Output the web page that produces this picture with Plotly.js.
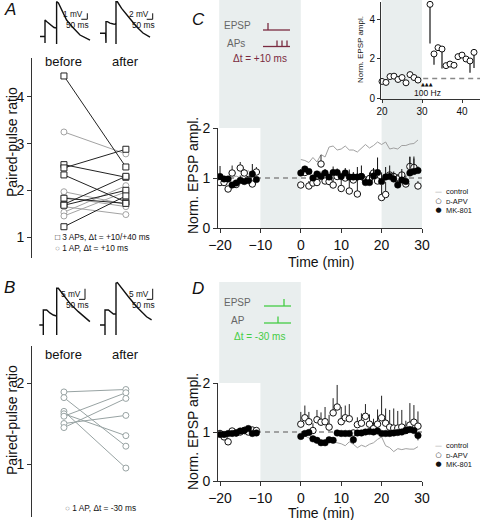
<!DOCTYPE html>
<html><head><meta charset="utf-8">
<script src="https://cdn.plot.ly/plotly-3.0.1.min.js"></script>
<style>html,body{margin:0;padding:0;background:#fff}</style>
</head><body><div id="chart" style="width:480px;height:520px"></div>
<script>
// ---------- DATA ----------
const pairPos = [0, 1];                 // before, after
const pairLabels = ['before', 'after'];

// Panel A
const aSqBefore  = [4.45, 2.55, 2.48, 2.33, 1.83, 1.70, 1.68, 1.22];
const aSqAfter   = [2.50, 2.28, 2.88, 1.75, 1.72, 2.30, 2.00, 1.88];
const aCirBefore = [3.25, 1.97, 1.85, 1.65, 1.53, 1.45];
const aCirAfter  = [2.78, 1.70, 1.65, 1.48, 2.10, 1.97];
const aTicks = [1, 2, 3, 4];

// Panel B
const bBefore = [1.89, 1.82, 1.65, 1.62, 1.59, 1.50, 1.45];
const bAfter  = [1.92, 1.22, 0.95, 1.35, 1.88, 1.60, 1.81];
const bTicks = [1, 2];

// Example EPSP traces (ms, mV)
const wAbT = [0,25,25,25,33,50,70,83,83,83,92,108,133,167,200,250];
const wAbV = [0,0,-1.1,2.75,2.5,2.0,1.5,1.4,-1.25,5.8,5.6,4.4,2.75,1.4,0.25,-0.6];
const wAaT = [0,28,30,30,37,50,67,80,80,80,87,108,142,183,215,250];
const wAaV = [0,0.1,-3.2,3.9,3.9,3.4,3.1,3.0,-3.6,10.5,10.5,8.3,5.5,2.2,0.1,-1.3];
const wBbT = [0,20,20,20,37,53,70,87,87,87,95,120,153,195,253];
const wBbV = [0,0,-4.7,7.1,7.1,5.7,4.7,4.2,-4.7,17.3,17.3,14.2,10.2,6.3,1.6];
const wBaT = [0,25,25,25,42,67,80,80,80,87,108,142,183,233,258];
const wBaV = [0,0,-4.7,7.1,7.1,5.2,5.2,-4.7,19.7,20,17.3,13.3,8.6,3.9,2.4];

// Time courses (min)
const timeTicks = [-20, -10, 0, 10, 20, 30];
const tBase = [-20,-19,-18,-17,-16,-15,-14,-13,-12,-11];
const tPost = [0,1,2,3,4,5,6,7,8,9,10,11,12,13,14,15,16,17,18,19,20,21,22,23,24,25,26,27,28,29];

// Panel C
const cCtrlBase = [1.00,1.02,0.97,1.00,1.04,1.00,1.07,1.15,1.05,1.00];
const cApvBase  = [0.91,0.91,0.78,1.10,0.87,1.20,1.10,0.97,0.88,1.12];
const cApvBaseErr = [0,0,0,0.15,0,0.12,0.08,0,0,0.1];
const cMkBase   = [1.03,0.98,0.98,0.86,0.90,0.95,0.93,0.95,1.08,0.97];
const cMkBaseErr = [0.21,0,0,0,0,0.1,0,0,0.2,0.05];
const cCtrlPost = [1.37,1.35,1.31,1.41,1.32,1.47,1.42,1.62,1.64,1.56,1.58,1.64,1.56,1.56,1.52,1.60,1.67,1.60,1.65,1.72,1.67,1.72,1.58,1.60,1.58,1.65,1.65,1.68,1.69,1.76];
const cApvPost  = [0.86,1.11,0.84,0.90,0.91,1.28,0.94,0.93,0.86,1.03,0.79,1.00,0.74,0.96,0.68,1.03,0.96,0.99,1.10,0.94,0.61,0.67,1.06,1.03,0.98,1.06,0.88,1.23,1.21,0.84];
const cApvPostErr = [0,0,0.1,0.05,0.1,0.18,0.05,0.08,0.15,0.05,0.2,0.05,0.28,0.05,0.3,0.05,0.05,0.1,0.1,0.1,0.25,0.25,0.05,0.05,0.1,0.05,0.1,0.2,0.18,0.1];
const cMkPost   = [1.10,1.18,1.13,1.00,1.08,1.03,1.10,1.02,1.11,1.11,1.03,1.10,1.02,1.02,1.02,1.03,0.91,0.91,1.04,1.11,0.93,1.02,1.03,0.98,0.86,0.96,0.93,1.10,1.13,1.15];
const cMkPostErr = [0.08,0.05,0,0.05,0,0.1,0.08,0,0.12,0.08,0,0.1,0.15,0.1,0.2,0.22,0.1,0.2,0.15,0.3,0.18,0.2,0.22,0.15,0.1,0.22,0.12,0.32,0.3,0.08];

// Panel C inset (single cell)
const insT = [20,21,22,23,24,25,26,27,28,29];
const insBase = [0.85,0.80,1.10,1.12,0.95,1.05,0.78,1.20,1.05,0.92];
const insPostT = [32,33,34,35,36,37,38,39,40,41,42,43];
const insPost = [4.80,2.26,2.58,2.51,1.66,1.74,1.68,2.12,2.20,2.00,1.90,2.34];
const insPostErr = [2.0,0.55,0,1.0,0,0,0,0,0,0,0.6,0.8];

// Panel D
const dCtrlBase = [0.98,0.97,1.00,1.02,0.99,1.01,1.03,1.05,1.00,1.00];
const dApvBase  = [0.97,0.90,0.80,1.02,0.98,1.00,1.03,1.00,1.04,1.03];
const dApvBaseErr = [0.05,0,0,0.03,0.05,0.05,0.08,0.05,0.05,0.04];
const dMkBase   = [0.95,0.95,0.97,0.97,0.98,1.02,1.03,1.07,0.97,0.98];
const dMkBaseErr = [0.05,0,0.03,0,0.05,0.04,0.05,0.05,0.04,0.03];
const dCtrlPost = [0.90,0.92,0.88,0.82,0.78,0.80,0.82,0.85,0.80,0.78,0.76,0.72,0.80,0.75,0.68,0.73,0.70,0.75,0.78,0.85,0.90,0.72,0.68,0.60,0.66,0.64,0.66,0.65,0.65,0.70];
const dApvPost  = [1.16,1.29,1.21,1.03,1.25,1.20,1.21,1.10,1.39,1.51,1.21,1.29,1.27,0.98,1.15,1.18,1.32,1.16,1.07,1.16,1.29,1.18,1.10,1.08,1.08,1.10,1.03,1.14,1.20,1.12];
const dApvPostErr = [0.25,0.25,0.2,0.15,0.2,0.2,0.3,0.25,0.3,0.45,0.3,0.25,0.3,0,0.15,0.2,0.25,0.2,0.2,0.3,0.45,0.3,0.35,0.4,0.35,0.35,0.2,0.45,0.35,0.3];
const dMkPost   = [0.91,0.97,0.99,0.86,0.83,0.78,0.78,0.84,0.83,0.98,0.97,0.97,0.97,0.84,0.98,0.98,1.00,1.01,1.00,1.02,0.97,0.97,0.97,0.98,0.99,1.00,1.03,1.05,1.03,0.93];
const dMkPostErr = [0.05,0.05,0.05,0.05,0.05,0.05,0.04,0.05,0.05,0.05,0.05,0.05,0.05,0.08,0.05,0.05,0.05,0.05,0.05,0.05,0.05,0.05,0.05,0.05,0.05,0.05,0.05,0.05,0.05,0.1];

// ---------- HELPERS ----------
const FONT = 'Liberation Sans, Arial, Helvetica, sans-serif';
const W = 480, H = 520;
const px = v => v / W;
const py = v => 1 - v / H;
const SHADE = '#e9eeee';
const DARKRED = '#7a2a40';
const GREEN = '#44cc44';

function pairs(before, after) {
  const x = [], y = [];
  before.forEach((b, i) => { x.push(pairPos[0], pairPos[1], null); y.push(b, after[i], null); });
  return {x, y};
}
const zeros = n => new Array(n).fill(0);

const traces = [];
// Panel A
const aC = pairs(aCirBefore, aCirAfter);
traces.push({x: aC.x, y: aC.y, xaxis: 'x', yaxis: 'y', mode: 'lines+markers', cliponaxis: false,
  line: {color: '#a3a3a3', width: 1}, marker: {symbol: 'circle', size: 6, color: '#fff', line: {color: '#a3a3a3', width: 1}}});
const aS = pairs(aSqBefore, aSqAfter);
traces.push({x: aS.x, y: aS.y, xaxis: 'x', yaxis: 'y', mode: 'lines+markers', cliponaxis: false,
  line: {color: '#222', width: 1}, marker: {symbol: 'square', size: 6, color: '#fff', line: {color: '#222', width: 1}}});
// Panel B
const bP = pairs(bBefore, bAfter);
traces.push({x: bP.x, y: bP.y, xaxis: 'x2', yaxis: 'y2', mode: 'lines+markers', cliponaxis: false,
  line: {color: '#98a3a3', width: 1}, marker: {symbol: 'circle', size: 6, color: '#fff', line: {color: '#98a3a3', width: 1}}});

// waveforms
[[wAbT, wAbV, 'x6', 'y6'], [wAaT, wAaV, 'x7', 'y7'], [wBbT, wBbV, 'x8', 'y8'], [wBaT, wBaV, 'x9', 'y9']].forEach(w => {
  traces.push({x: w[0], y: w[1], xaxis: w[2], yaxis: w[3], mode: 'lines', cliponaxis: false,
    line: {color: '#111', width: 1.4}});
});

function timeCourse(ax, ay, ctrlB, ctrlP, apvB, apvBE, apvP, apvPE, mkB, mkBE, mkP, mkPE, mkDown) {
  traces.push({x: tBase, y: ctrlB, xaxis: ax, yaxis: ay, mode: 'lines', line: {color: '#a0a0a0', width: 1}});
  traces.push({x: tPost, y: ctrlP, xaxis: ax, yaxis: ay, mode: 'lines', line: {color: '#a0a0a0', width: 1}});
  [[tBase, apvB, apvBE], [tPost, apvP, apvPE]].forEach(s => {
    traces.push({x: s[0], y: s[1], xaxis: ax, yaxis: ay, mode: 'markers',
      error_y: {type: 'data', symmetric: false, array: s[2], arrayminus: zeros(s[2].length), width: 0, thickness: 1, color: '#222'},
      marker: {symbol: 'circle', size: 6.5, color: '#fff', line: {color: '#111', width: 1}}});
  });
  [[tBase, mkB, mkBE], [tPost, mkP, mkPE]].forEach(s => {
    const e = mkDown ? {array: zeros(s[2].length), arrayminus: s[2]} : {array: s[2], arrayminus: zeros(s[2].length)};
    traces.push({x: s[0], y: s[1], xaxis: ax, yaxis: ay, mode: 'markers',
      error_y: Object.assign({type: 'data', symmetric: false, width: 0, thickness: 1, color: '#111'}, e),
      marker: {symbol: 'circle', size: 6.5, color: '#000', line: {color: '#000', width: 0.5}}});
  });
}
timeCourse('x3', 'y3', cCtrlBase, cCtrlPost, cApvBase, cApvBaseErr, cApvPost, cApvPostErr, cMkBase, cMkBaseErr, cMkPost, cMkPostErr, false);
timeCourse('x5', 'y5', dCtrlBase, dCtrlPost, dApvBase, dApvBaseErr, dApvPost, dApvPostErr, dMkBase, dMkBaseErr, dMkPost, dMkPostErr, true);

// C inset
traces.push({x: insT, y: insBase, xaxis: 'x4', yaxis: 'y4', mode: 'markers', cliponaxis: false,
  marker: {symbol: 'circle', size: 6, color: '#fff', line: {color: '#111', width: 1}}});
traces.push({x: insPostT, y: insPost, xaxis: 'x4', yaxis: 'y4', mode: 'markers', cliponaxis: false,
  error_y: {type: 'data', symmetric: false, array: zeros(insPostErr.length), arrayminus: insPostErr, width: 0, thickness: 1.5, color: '#444'},
  marker: {symbol: 'circle', size: 6, color: '#fff', line: {color: '#111', width: 1}}});

// ---------- AXES ----------
const baseAx = {showgrid: false, zeroline: false, showline: true, linecolor: '#333', linewidth: 1,
  ticks: 'outside', ticklen: 4, tickwidth: 1, tickcolor: '#333', tickfont: {family: FONT, size: 14, color: '#111'}};
const hidden = {visible: false, showgrid: false, zeroline: false, fixedrange: true};
const layout = {
  width: W, height: H, margin: {l: 0, r: 0, t: 0, b: 0}, showlegend: false,
  paper_bgcolor: '#fff', plot_bgcolor: 'rgba(0,0,0,0)', font: {family: FONT, color: '#111'},
  xaxis: Object.assign({}, hidden, {domain: [px(32), px(150)], range: [-0.516, 1.39], anchor: 'y'}),
  yaxis: Object.assign({}, baseAx, {domain: [py(258), py(58)], range: [0.55, 4.835], tickvals: aTicks, anchor: 'x'}),
  xaxis2: Object.assign({}, hidden, {domain: [px(32), px(150)], range: [-0.516, 1.39], anchor: 'y2'}),
  yaxis2: Object.assign({}, baseAx, {domain: [py(517), py(346)], range: [0.346, 2.457], tickvals: bTicks, anchor: 'x2'}),
  xaxis3: Object.assign({}, baseAx, {domain: [px(218), px(422)], range: [-20.5, 30], tickvals: timeTicks, anchor: 'y3'}),
  yaxis3: Object.assign({}, baseAx, {domain: [py(228), py(128)], range: [0, 2], tickvals: [0, 1, 2], anchor: 'x3'}),
  xaxis4: Object.assign({}, baseAx, {domain: [px(381), 1], range: [19.75, 44.5], tickvals: [20, 30, 40], anchor: 'y4', ticklen: 3, tickfont: {family: FONT, size: 10, color: '#111'}}),
  yaxis4: Object.assign({}, baseAx, {domain: [py(99), py(2)], range: [-0.05, 4.92], tickvals: [0, 2, 4], anchor: 'x4', ticklen: 3, tickfont: {family: FONT, size: 10, color: '#111'}}),
  xaxis5: Object.assign({}, baseAx, {domain: [px(218), px(422)], range: [-20.5, 30], tickvals: timeTicks, anchor: 'y5'}),
  yaxis5: Object.assign({}, baseAx, {domain: [py(481), py(383)], range: [0, 2], tickvals: [0, 1, 2], anchor: 'x5'}),
  xaxis6: Object.assign({}, hidden, {domain: [px(35), px(100)], range: [-25, 300], anchor: 'y6'}),
  yaxis6: Object.assign({}, hidden, {domain: [py(50), 1], range: [-2.25, 6.083], anchor: 'x6'}),
  xaxis7: Object.assign({}, hidden, {domain: [px(97), px(160)], range: [-15, 300], anchor: 'y7'}),
  yaxis7: Object.assign({}, hidden, {domain: [py(50), 1], range: [-5.567, 11.1], anchor: 'x7'}),
  xaxis8: Object.assign({}, hidden, {domain: [px(35), px(100)], range: [-21.5, 303.5], anchor: 'y8'}),
  yaxis8: Object.assign({}, hidden, {domain: [py(340), py(275)], range: [-7.075, 23.585], anchor: 'x8'}),
  xaxis9: Object.assign({}, hidden, {domain: [px(97), px(160)], range: [-15, 300], anchor: 'y9'}),
  yaxis9: Object.assign({}, hidden, {domain: [py(340), py(275)], range: [-7.075, 23.585], anchor: 'x9'}),
};

// ---------- SHAPES ----------
const shapes = [];
const rect = (xref, x0, x1, y0, y1) => shapes.push({type: 'rect', layer: 'below', xref: xref, yref: 'paper',
  x0: x0, x1: x1, y0: y0, y1: y1, fillcolor: SHADE, line: {width: 0}});
rect('x3', -20.2, 0, py(128), 1);
rect('x3', -10, 0, py(228), py(128));
rect('x3', 20, 30, py(228), 1);
rect('x5', -20.2, 0, py(383), py(282));
rect('x5', -10, 0, py(481), py(383));
const dash = (xref, yref, x0, x1) => shapes.push({type: 'line', layer: 'below', xref: xref, yref: yref,
  x0: x0, x1: x1, y0: 1, y1: 1, line: {color: '#888', width: 1.5, dash: '5px,4px'}});
dash('x3', 'y3', -20, 30);
dash('x5', 'y5', -20, 30);
dash('x4', 'y4', 30.3, 44.5);
// scale bars
const bar = (xr, yr, t0, t1, v0, v1) => {
  shapes.push({type: 'line', xref: xr, yref: yr, x0: t1, x1: t1, y0: v0, y1: v1, line: {color: '#111', width: 1}});
  shapes.push({type: 'line', xref: xr, yref: yr, x0: t0, x1: t1, y0: v0, y1: v0, line: {color: '#111', width: 1}});
};
bar('x6', 'y6', 206.5, 236.5, 2.87, 3.87);
bar('x7', 'y7', 233.5, 263.5, 4.67, 6.67);
bar('x8', 'y8', 198.5, 228.5, 12.1, 17.1);
bar('x9', 'y9', 233.5, 263.5, 12.1, 17.1);
// stimulation schematics
const pline = (x0, y0, x1, y1, c) => shapes.push({type: 'line', xref: 'paper', yref: 'paper',
  x0: px(x0), x1: px(x1), y0: py(y0), y1: py(y1), line: {color: c, width: 1.3}});
pline(263, 30, 290, 30, DARKRED); pline(268, 23, 268, 30, DARKRED);
pline(263, 46.5, 290, 46.5, DARKRED);
[277, 282, 287].forEach(xx => pline(xx, 40.5, xx, 46.5, DARKRED));
pline(264, 306, 291, 306, GREEN); pline(284, 299, 284, 306, GREEN);
pline(264, 323, 291, 323, GREEN); pline(278, 316.5, 278, 323, GREEN);
layout.shapes = shapes;

// ---------- TEXT ----------
const ann = [];
const T = (x, y, text, size, opts) => ann.push(Object.assign({xref: 'paper', yref: 'paper', x: px(x), y: py(y),
  text: text, showarrow: false, xanchor: 'center', yanchor: 'middle', font: {family: FONT, size: size, color: '#111'}}, opts || {}));
// panel letters
T(2, 9, '<i>A</i>', 17, {xanchor: 'left'});
T(2, 287, '<i>B</i>', 17, {xanchor: 'left'});
T(190, 20, '<i>C</i>', 17, {xanchor: 'left'});
T(190, 288, '<i>D</i>', 17, {xanchor: 'left'});
// A / B labels
[['x', 61], ['x2', 354]].forEach(p => pairLabels.forEach((l, i) => ann.push({xref: p[0], yref: 'paper', x: pairPos[i], y: py(p[1]),
  xanchor: 'center', yanchor: 'middle', text: l, showarrow: false, font: {family: FONT, size: 13, color: '#111'}})));
T(12, 142, 'Paired-pulse ratio', 14, {textangle: -90});
T(12, 420, 'Paired-pulse ratio', 14, {textangle: -90});
T(53, 242, '□ 3 APs, Δt = +10/+40 ms<br><span style="color:#888">○</span> 1 AP, Δt = +10 ms', 8.3, {xanchor: 'left', align: 'left'});
T(63, 508, '<span style="color:#888">○</span> 1 AP, Δt = -30 ms', 8.3, {xanchor: 'left'});
// scale labels
T(85, 14, '1 mV', 8.3, {xanchor: 'right'}); T(91, 24.5, '50 ms', 8.3, {xanchor: 'right'});
T(151, 14, '2 mV', 8.3, {xanchor: 'right'}); T(157, 24.5, '50 ms', 8.3, {xanchor: 'right'});
T(83, 293.5, '5 mV', 8.3, {xanchor: 'right'}); T(91, 304.5, '50 ms', 8.3, {xanchor: 'right'});
T(151, 293.5, '5 mV', 8.3, {xanchor: 'right'}); T(157, 304.5, '50 ms', 8.3, {xanchor: 'right'});
// C/D axis titles
T(321, 262, 'Time (min)', 14);
T(321, 513, 'Time (min)', 14);
T(193, 176, 'Norm. EPSP ampl.', 14, {textangle: -90});
T(193, 432, 'Norm. EPSP ampl.', 14, {textangle: -90});
T(361, 50, 'Norm. EPSP ampl.', 8, {textangle: -90});
// C inset stim
T(427, 84, '▲▲▲', 5, {font: {family: 'DejaVu Sans', size: 5, color: '#111'}});
T(427, 92.5, '100 Hz', 8.5);
// schematic labels
T(253, 25.5, 'EPSP', 10, {xanchor: 'right', font: {family: FONT, size: 10, color: '#666'}});
T(247, 43, 'APs', 10, {xanchor: 'right', font: {family: FONT, size: 10, color: '#666'}});
T(260, 58, 'Δt = +10 ms', 10, {font: {family: FONT, size: 10, color: DARKRED}});
T(253, 302.5, 'EPSP', 10, {xanchor: 'right', font: {family: FONT, size: 10, color: '#666'}});
T(247, 320, 'AP', 10, {xanchor: 'right', font: {family: FONT, size: 10, color: '#666'}});
T(259, 336, 'Δt = -30 ms', 10, {font: {family: FONT, size: 10, color: GREEN}});
// legends C & D (one multi-line block for glyphs, one for labels)
[201.3, 455].forEach(yc => {
  T(438, yc, '<span style="color:#999">—</span><br>○<br>●', 7, {font: {family: 'DejaVu Sans', size: 7, color: '#111'}});
  T(444, yc, 'control<br><span style="font-size:6px">D</span>-APV<br>MK-801', 7.4, {xanchor: 'left', align: 'left'});
});
layout.annotations = ann;

Plotly.newPlot('chart', traces, layout, {staticPlot: true, displayModeBar: false});
</script></body></html>
